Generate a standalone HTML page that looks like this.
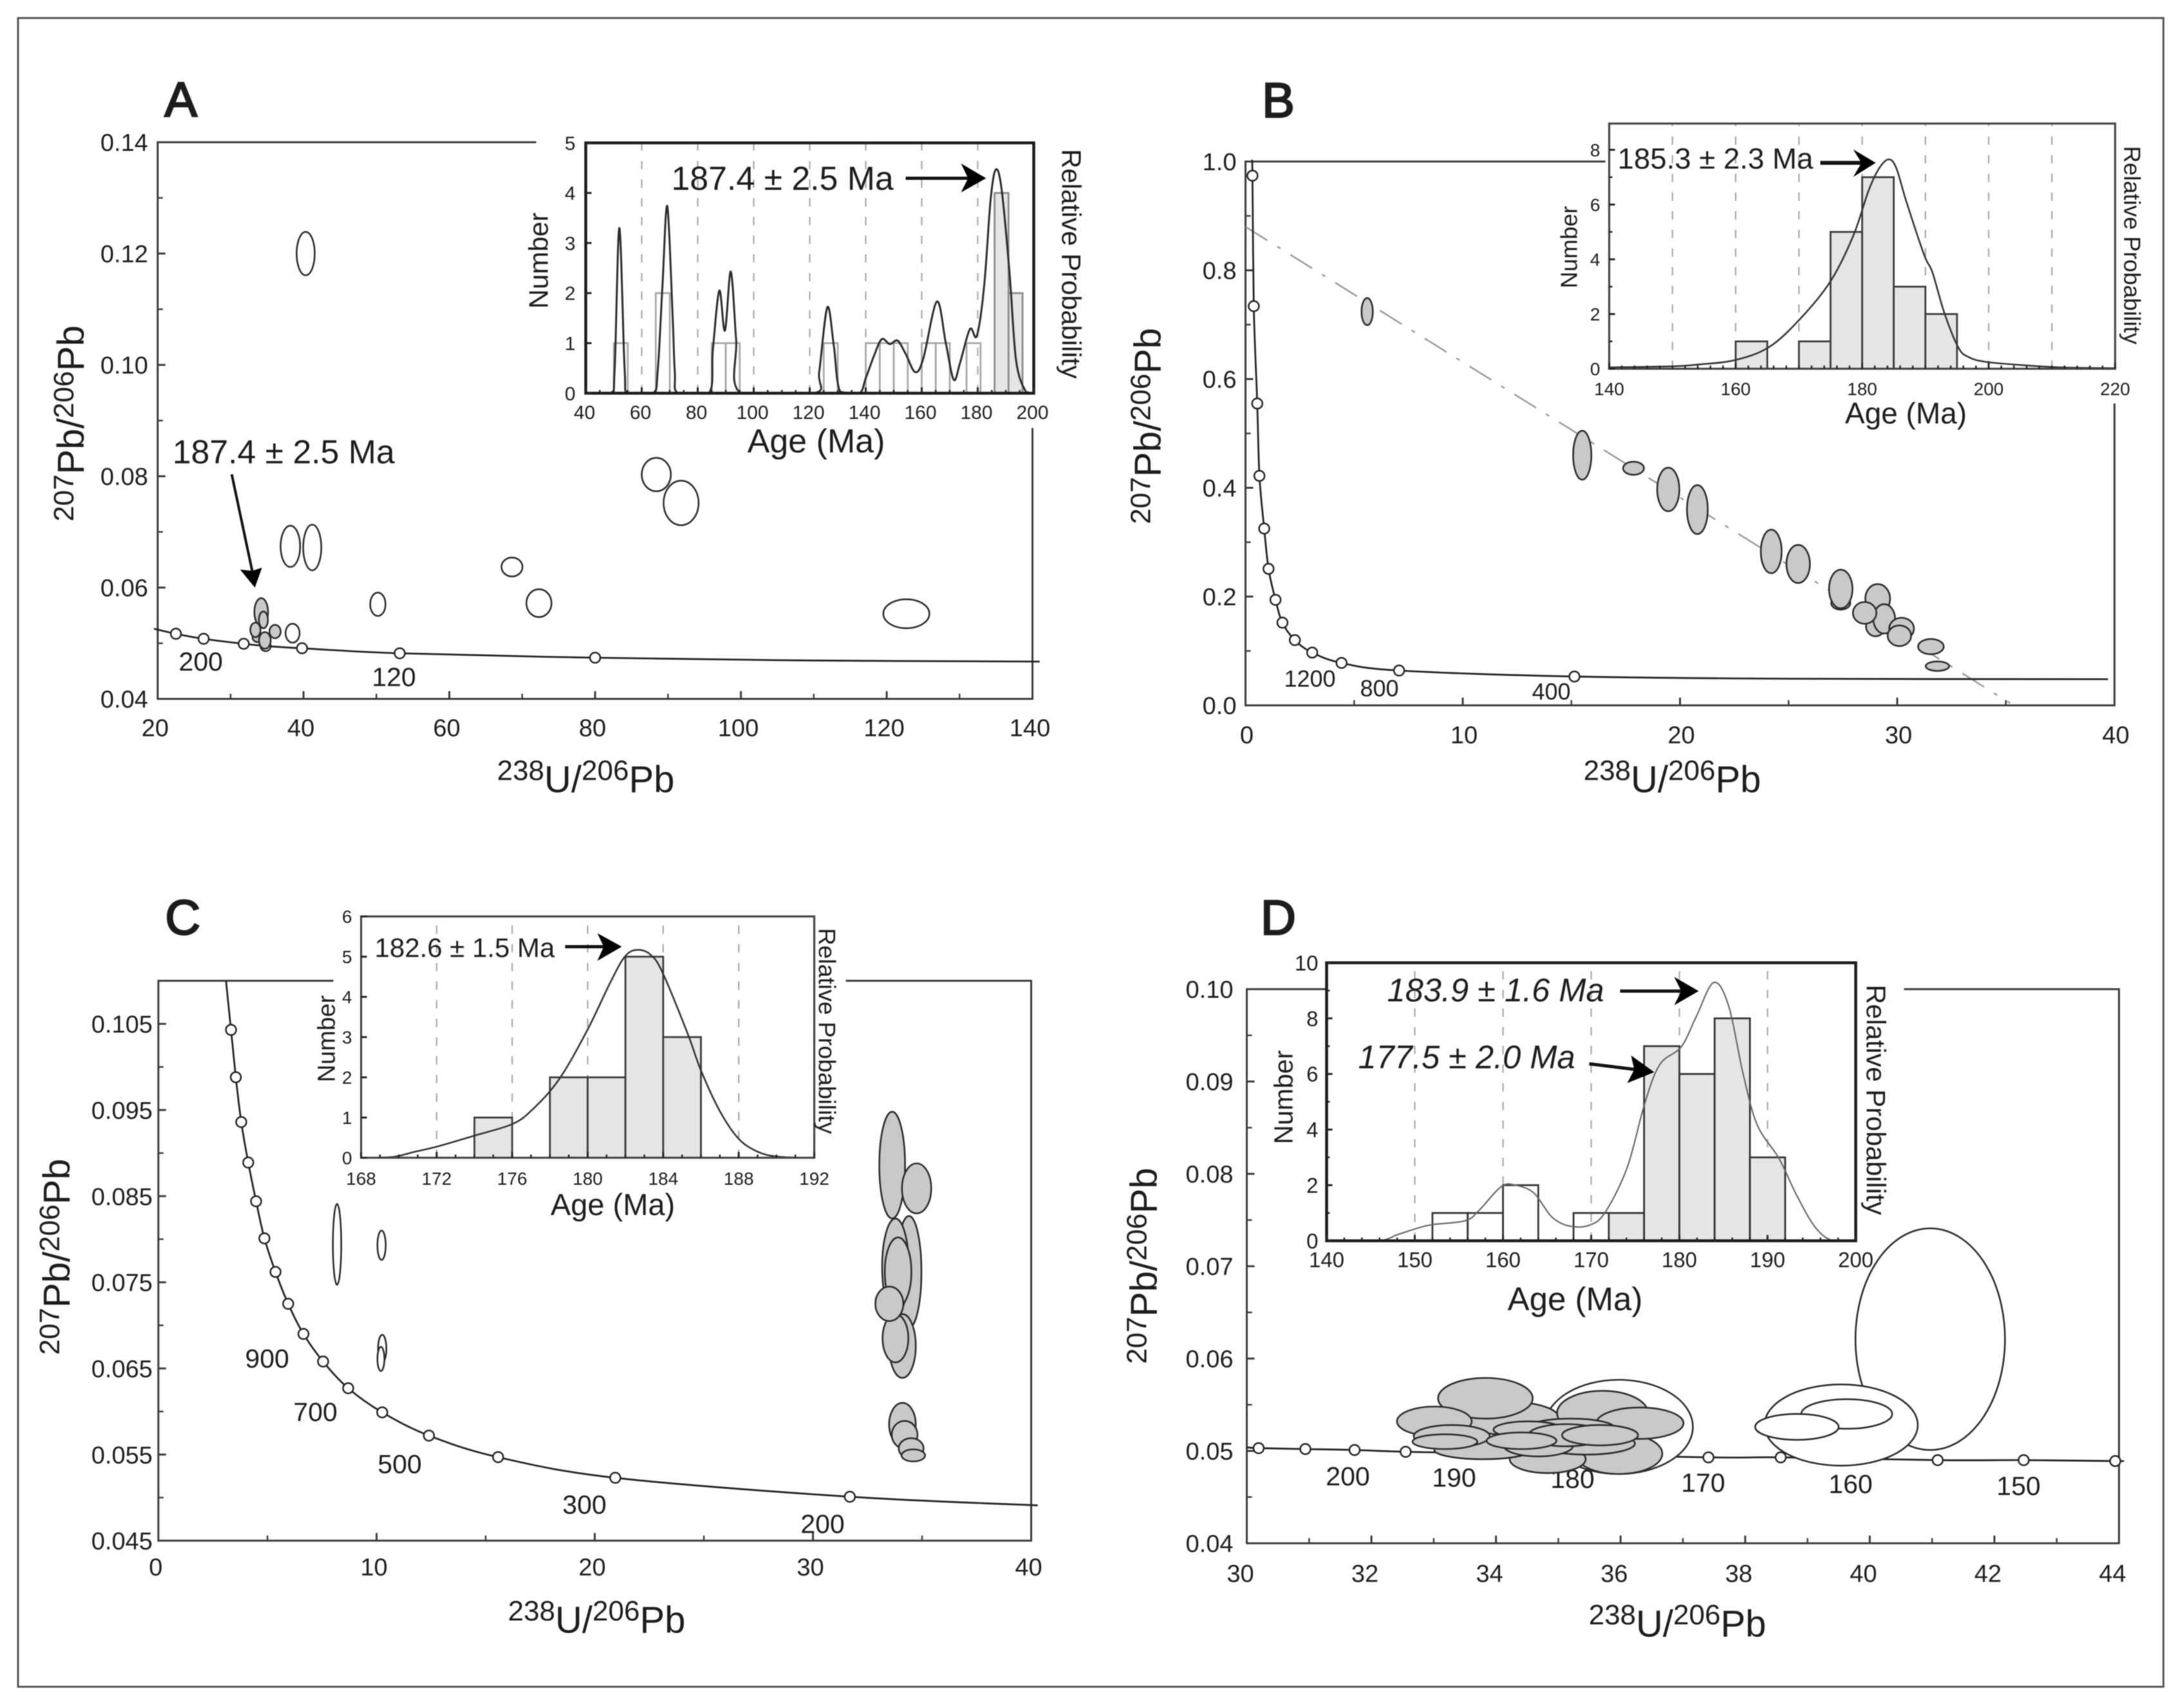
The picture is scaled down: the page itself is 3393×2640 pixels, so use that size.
<!DOCTYPE html>
<html>
<head>
<meta charset="utf-8">
<title>Concordia diagrams A-D</title>
<style>
html,body{margin:0;padding:0;background:#fff;}
svg{display:block;filter:blur(0.7px);}
text{font-family:"Liberation Sans",Arial,sans-serif;fill:#1c1c1c;}
</style>
</head>
<body>
<svg id="figure" xmlns="http://www.w3.org/2000/svg" width="3393" height="2640" viewBox="0 0 3393 2640">
<rect x="0" y="0" width="3393" height="2640" fill="#fff"/>
<rect x="28" y="28" width="3333" height="2593" fill="none" stroke="#555" stroke-width="3"/>

<g font-size="41" text-anchor="middle">
<text x="312" y="1042">200</text>
<text x="612" y="1066">120</text>
<text x="2035" y="1067" font-size="36">1200</text>
<text x="2143" y="1082" font-size="36">800</text>
<text x="2410" y="1087" font-size="36">400</text>
<text x="415" y="2125">900</text>
<text x="490" y="2208">700</text>
<text x="621" y="2289">500</text>
<text x="908" y="2352">300</text>
<text x="1278" y="2382">200</text>
<text x="2094" y="2308">200</text>
<text x="2259" y="2310">190</text>
<text x="2443" y="2312">180</text>
<text x="2646" y="2318">170</text>
<text x="2875" y="2320">160</text>
<text x="3136" y="2323">150</text>
</g>

<g id="marks"></g>

<g font-size="76" text-anchor="middle" stroke="#1c1c1c" stroke-width="2.5">
<text x="281" y="181">A</text>
<text x="1986" y="182">B</text>
<text x="284" y="1452">C</text>
<text x="1986" y="1452">D</text>
</g>

<g font-size="58" text-anchor="middle">
<text transform="translate(130 658) rotate(-90)"><tspan font-size="44" dy="-16">207</tspan><tspan dy="16">Pb/</tspan><tspan font-size="44" dy="-16">206</tspan><tspan dy="16">Pb</tspan></text>
<text x="910" y="1231"><tspan font-size="44" dy="-19">238</tspan><tspan dy="19">U/</tspan><tspan font-size="44" dy="-19">206</tspan><tspan dy="19">Pb</tspan></text>
<text transform="translate(1803 662) rotate(-90)"><tspan font-size="44" dy="-16">207</tspan><tspan dy="16">Pb/</tspan><tspan font-size="44" dy="-16">206</tspan><tspan dy="16">Pb</tspan></text>
<text x="2598" y="1231"><tspan font-size="44" dy="-19">238</tspan><tspan dy="19">U/</tspan><tspan font-size="44" dy="-19">206</tspan><tspan dy="19">Pb</tspan></text>
<text transform="translate(108 1953) rotate(-90)"><tspan font-size="44" dy="-16">207</tspan><tspan dy="16">Pb/</tspan><tspan font-size="44" dy="-16">206</tspan><tspan dy="16">Pb</tspan></text>
<text x="927" y="2537"><tspan font-size="44" dy="-19">238</tspan><tspan dy="19">U/</tspan><tspan font-size="44" dy="-19">206</tspan><tspan dy="19">Pb</tspan></text>
<text transform="translate(1797 1967) rotate(-90)"><tspan font-size="44" dy="-16">207</tspan><tspan dy="16">Pb/</tspan><tspan font-size="44" dy="-16">206</tspan><tspan dy="16">Pb</tspan></text>
<text x="2606" y="2543"><tspan font-size="44" dy="-19">238</tspan><tspan dy="19">U/</tspan><tspan font-size="44" dy="-19">206</tspan><tspan dy="19">Pb</tspan></text>
</g>

<g text-anchor="middle">
<text x="1268" y="703" font-size="52">Age (Ma)</text>
<text font-size="42" transform="translate(851 405) rotate(-90)">Number</text>
<text font-size="41.7" transform="translate(1650 410) rotate(90)">Relative Probability</text>
<text x="2961" y="658" font-size="46">Age (Ma)</text>
<text font-size="36" transform="translate(2450 384) rotate(-90)">Number</text>
<text font-size="36" transform="translate(3300 381) rotate(90)">Relative Probability</text>
<text x="952" y="1888" font-size="47">Age (Ma)</text>
<text font-size="38" transform="translate(520 1614) rotate(-90)">Number</text>
<text font-size="37.4" transform="translate(1272 1602) rotate(90)">Relative Probability</text>
<text x="2447" y="2036" font-size="51">Age (Ma)</text>
<text font-size="41" transform="translate(2008 1705) rotate(-90)">Number</text>
<text font-size="41.8" transform="translate(2900 1709) rotate(90)">Relative Probability</text>
</g>

<g>
<text x="1043" y="295" font-size="51.8">187.4 ± 2.5 Ma</text>
<line x1="1407" y1="277" x2="1505" y2="277" stroke="#111" stroke-width="5"/>
<polygon points="1532,277 1493,254 1504,277 1493,299" fill="#000"/>
<text x="268" y="720" font-size="51.8">187.4 ± 2.5 Ma</text>
<line x1="360" y1="737" x2="392" y2="888" stroke="#111" stroke-width="4"/>
<polygon points="396,913 373,885 392,887 407,882" fill="#000"/>
<text x="2513" y="262" font-size="45.6">185.3 ± 2.3 Ma</text>
<line x1="2828" y1="253" x2="2894" y2="253" stroke="#111" stroke-width="6"/>
<polygon points="2914,253 2879,232 2892,253 2879,275" fill="#000"/>
<text x="582" y="1487" font-size="42">182.6 ± 1.5 Ma</text>
<line x1="878" y1="1471" x2="940" y2="1471" stroke="#111" stroke-width="5"/>
<polygon points="966,1471 928,1450 938,1471 928,1493" fill="#000"/>
<text x="2155" y="1556" font-size="50.6" font-style="italic">183.9 ± 1.6 Ma</text>
<line x1="2517" y1="1540" x2="2614" y2="1540" stroke="#111" stroke-width="5"/>
<polygon points="2639,1540 2601,1518 2612,1540 2601,1562" fill="#000"/>
<text x="2110" y="1660" font-size="50.6" font-style="italic">177.5 ± 2.0 Ma</text>
<line x1="2469" y1="1653" x2="2542" y2="1662" stroke="#111" stroke-width="5"/>
<polygon points="2570,1666 2534,1640 2539,1662 2528,1683" fill="#000"/>
</g>
</svg>

<script>
// ---------- Panel A data ----------
const aXTickLabels = ['20','40','60','80','100','120','140'];
const aYTickLabels = ['0.04','0.06','0.08','0.10','0.12','0.14'];
const aCurveX = [19.5,22.5,26.3,31.8,34.8,39.8,53.2,80,110,141];
const aCurveY = [0.0526,0.0517,0.0508,0.0499,0.0495,0.0491,0.0482,0.0474,0.0469,0.0467];
const aMarkerX = [22.5,26.3,31.8,34.8,39.8,53.2,80];
const aMarkerY = [0.0517,0.0508,0.0499,0.0495,0.0491,0.0482,0.0474];
const aOpenX = [40.3,38.2,41.2,88.4,91.8,68.6,72.3,50.2,122.7,38.5];
const aOpenY = [0.12,0.0674,0.0672,0.0803,0.0752,0.0637,0.0572,0.057,0.0553,0.0518];
const aOpenEX = [1.24,1.34,1.24,2.0,2.4,1.44,1.72,1.05,3.16,0.96];
const aOpenEY = [0.0039,0.0037,0.0041,0.003,0.004,0.0017,0.0025,0.0021,0.0026,0.0017];
const aGrayX = [33.7,34.2,34.5,33.4,36.1,34.7];
const aGrayY = [0.0511,0.0556,0.0542,0.0524,0.0521,0.0505];
const aGrayEX = [0.7,0.94,0.62,0.7,0.77,0.8];
const aGrayEY = [0.0009,0.0025,0.0015,0.0013,0.0012,0.0015];
const aInsetXTickLabels = ['40','60','80','100','120','140','160','180','200'];
const aInsetYTickLabels = ['0','1','2','3','4','5'];
const aBinStarts = [50,65,85,90,125,140,145,150,160,165,176,186,191];
const aBinCounts = [1,2,1,1,1,1,1,1,1,1,1,4,2];
const aPdfAges = [40,48.9,50.3,52,53.9,55.1,64,65.7,67.4,69.1,70.9,71.8,73,84,85.4,87.7,89.7,91.8,93.7,95.4,121.7,123.4,126.3,128.6,130.9,137.7,140,142.9,145.7,148.6,151.4,154.3,157.7,160.6,165.4,168.6,171.4,173.7,177.2,179.7,182.3,184.6,186.5,188.6,191.4,193.7,197.2,200];
const aPdfValues = [0,0,0.44,3.3,0.44,0,0,0.44,2.15,3.74,1.72,0.44,0,0,0.87,2.05,1.25,2.43,1.08,0,0,0.44,1.72,0.95,0.03,0,0.3,0.74,1.08,0.98,1.05,0.78,0.42,0.7,1.83,1.0,0.27,0.61,1.28,1.15,2.15,3.87,4.47,4.04,2.37,0.65,0.03,0];

// ---------- Panel B data ----------
const bXTickLabels = ['0','10','20','30','40'];
const bYTickLabels = ['0.0','0.2','0.4','0.6','0.8','1.0'];
const bCurveX = [0.3,0.32,0.38,0.54,0.64,0.86,1.06,1.38,1.7,2.27,3.07,4.42,7.07,15.14,25,39.7];
const bCurveY = [1,0.974,0.734,0.555,0.422,0.325,0.251,0.194,0.152,0.12,0.097,0.078,0.064,0.053,0.049,0.048];
const bMarkerX = [0.32,0.38,0.54,0.64,0.86,1.06,1.38,1.7,2.27,3.07,4.42,7.07,15.14];
const bMarkerY = [0.974,0.734,0.555,0.422,0.325,0.251,0.194,0.152,0.12,0.097,0.078,0.064,0.053];
const bRegressionX = [0,35.2];
const bRegressionY = [0.88,0.004];
const bGrayX = [5.6,15.5,17.86,19.46,20.8,24.2,25.44,27.4,27.4,29.1,29,29.4,28.5,30.2,30.1,31.55,31.85];
const bGrayY = [0.724,0.46,0.436,0.397,0.36,0.283,0.26,0.188,0.214,0.196,0.146,0.159,0.17,0.141,0.128,0.108,0.072];
const bGrayEX = [0.26,0.42,0.48,0.51,0.48,0.48,0.54,0.44,0.54,0.57,0.44,0.5,0.54,0.57,0.54,0.59,0.54];
const bGrayEY = [0.025,0.045,0.012,0.04,0.045,0.04,0.035,0.012,0.0355,0.027,0.019,0.027,0.02,0.02,0.019,0.014,0.0087];
const bInsetXTickLabels = ['140','160','180','200','220'];
const bInsetYTickLabels = ['0','2','4','6','8'];
const bGridAges = [150,160,170,180,190,200,210];
const bBinStarts = [160,170,175,180,185,190];
const bBinCounts = [1,1,5,7,3,2];
const bPdfAges = [140,150,154.3,159.8,165.2,170.1,175,178.6,181,182.7,184.2,185.4,187,189.8,191.1,193,195.2,196.8,199.6,206.1,211.6,220];
const bPdfValues = [0.05,0.09,0.16,0.31,0.78,1.8,3.2,4.86,6.5,7.33,7.65,7.33,6.1,4.16,3.53,2.04,0.78,0.43,0.25,0.12,0.05,0.02];

// ---------- Panel C data ----------
const cXTickLabels = ['0','10','20','30','40'];
const cYTickLabels = ['0.045','0.055','0.065','0.075','0.085','0.095','0.105'];
const cCurveX = [3.1,3.33,3.55,3.8,4.12,4.48,4.86,5.37,5.95,6.65,7.55,8.7,10.26,12.4,15.57,20.94,31.69,40.3];
const cCurveY = [0.11,0.1043,0.0988,0.0936,0.0889,0.0844,0.0801,0.0762,0.0725,0.069,0.0658,0.0627,0.0599,0.0572,0.0547,0.0523,0.0501,0.0491];
const cMarkerX = [3.33,3.55,3.8,4.12,4.48,4.86,5.37,5.95,6.65,7.55,8.7,10.26,12.4,15.57,20.94,31.69];
const cMarkerY = [0.1043,0.0988,0.0936,0.0889,0.0844,0.0801,0.0762,0.0725,0.069,0.0658,0.0627,0.0599,0.0572,0.0547,0.0523,0.0501];
const cOpenX = [8.19,10.23,10.26,10.2];
const cOpenY = [0.0794,0.0793,0.0673,0.0661];
const cOpenEX = [0.19,0.19,0.19,0.16];
const cOpenEY = [0.0047,0.0017,0.0016,0.0014];
const cGrayX = [33.63,34.75,34.4,33.78,33.9,34.1,33.78,33.5,34.1,34.2,34.5,34.6];
const cGrayY = [0.0886,0.0859,0.0762,0.0768,0.0762,0.0676,0.0685,0.0725,0.0585,0.0573,0.0557,0.0549];
const cGrayEX = [0.59,0.67,0.57,0.61,0.61,0.61,0.59,0.64,0.61,0.59,0.57,0.54];
const cGrayEY = [0.0062,0.0029,0.0065,0.0056,0.004,0.0037,0.0028,0.002,0.0025,0.0016,0.0012,0.0007];
const cInsetXTickLabels = ['168','172','176','180','184','188','192'];
const cInsetYTickLabels = ['0','1','2','3','4','5','6'];
const cBinStarts = [174,178,180,182,184];
const cBinCounts = [1,2,2,5,3];
const cPdfAges = [168,169.66,170.85,172.04,174,176.02,177.1,178.5,180,181.2,182,182.7,183.4,184,185.3,186,187,188,189,190,191.4];
const cPdfValues = [0,0.02,0.15,0.28,0.55,0.84,1.21,1.96,3.19,4.36,5.02,5.17,5.02,4.57,3.08,2.17,1.16,0.47,0.15,0.03,0];

// ---------- Panel D data ----------
const dXTickLabels = ['30','32','34','36','38','40','42','44'];
const dYTickLabels = ['0.04','0.05','0.06','0.07','0.08','0.09','0.10'];
const dCurveX = [30,30.19,30.94,31.73,32.55,33.42,37.41,38.57,41.09,42.47,43.94,44];
const dCurveY = [0.0504,0.0503,0.0502,0.0501,0.0499,0.0498,0.0493,0.0493,0.049,0.049,0.0489,0.0489];
const dMarkerX = [30.19,30.94,31.73,32.55,33.42,37.41,38.57,41.09,42.47,43.94];
const dMarkerY = [0.0503,0.0502,0.0501,0.0499,0.0498,0.0493,0.0493,0.049,0.049,0.0489];
const dOpenX = [40.97,39.54,39.63,38.83,35.97];
const dOpenY = [0.0621,0.0528,0.054,0.0526,0.0526];
const dOpenEX = [1.2,1.23,0.73,0.67,1.19];
const dOpenEY = [0.012,0.0044,0.0016,0.0014,0.0051];
const dGrayX = [34.24,33.83,33.01,35.71,35.97,36.31,34.83,33.79,35.2,35.45,34.68,34.52,35.13,35.67,33.29,33.18,34.41];
const dGrayY = [0.0535,0.0557,0.0532,0.0541,0.0497,0.053,0.0491,0.0501,0.0525,0.0508,0.0506,0.0523,0.0517,0.0517,0.0516,0.051,0.0511];
const dGrayEX = [0.78,0.76,0.6,0.73,0.7,0.7,0.61,0.78,0.7,0.78,0.56,0.56,0.61,0.61,0.61,0.52,0.56];
const dGrayEY = [0.0018,0.0022,0.0016,0.0024,0.0022,0.0017,0.0015,0.001,0.001,0.0012,0.0012,0.0009,0.0012,0.0011,0.0012,0.0008,0.0009];
const dInsetXTickLabels = ['140','150','160','170','180','190','200'];
const dInsetYTickLabels = ['0','2','4','6','8','10'];
const dGridAges = [150,160,170,180,190];
const dBinStarts = [152,156,160,168,172,176,180,184,188];
const dBinCounts = [1,1,2,1,1,7,6,8,3];
const dPdfAges = [140,145.85,148.3,151.6,155.7,157.3,159.8,161.4,163.5,165.5,167.5,169.8,171.6,174.1,176.1,177.8,180.2,181.9,183.9,185.6,187.2,188.8,191.3,193.3,195.4,197.4,200];
const dPdfValues = [0,0,0.25,0.56,0.72,1.1,1.95,2.0,1.72,0.87,0.53,0.56,1.03,2.65,4.97,6.35,6.97,8.05,9.29,8.44,6.05,4.19,2.96,1.64,0.49,0,0];

const SVG_NS = 'http://www.w3.org/2000/svg';
const root = document.getElementById('marks');

function make(tag, attrs, parent) {
  const el = document.createElementNS(SVG_NS, tag);
  for (const k in attrs) el.setAttribute(k, attrs[k]);
  parent.appendChild(el);
  return el;
}
function linear(d0, d1, r0, r1) {
  return function (v) { return r0 + (v - d0) / (d1 - d0) * (r1 - r0); };
}
function splinePath(xVals, yVals, xs, ys, floorPx) {
  const p = xVals.map(function (x, i) { return [xs(x), ys(yVals[i])]; });
  let d = 'M' + p[0][0].toFixed(1) + ' ' + p[0][1].toFixed(1);
  const clampY = function (y) { return floorPx === undefined ? y : Math.min(y, floorPx); };
  for (let i = 0; i < p.length - 1; i++) {
    const a = p[Math.max(i - 1, 0)], b = p[i], c = p[i + 1], e = p[Math.min(i + 2, p.length - 1)];
    const c1x = b[0] + (c[0] - a[0]) / 6, c1y = clampY(b[1] + (c[1] - a[1]) / 6);
    const c2x = c[0] - (e[0] - b[0]) / 6, c2y = clampY(c[1] - (e[1] - b[1]) / 6);
    d += 'C' + c1x.toFixed(1) + ' ' + c1y.toFixed(1) + ' ' + c2x.toFixed(1) + ' ' + c2y.toFixed(1) + ' ' + c[0].toFixed(1) + ' ' + c[1].toFixed(1);
  }
  return d;
}

function drawTicks(group, cfg, xs, ys, xLabels, yLabels) {
  const xNums = xLabels.map(parseFloat), yNums = yLabels.map(parseFloat);
  xNums.forEach(function (v, i) {
    const tick = make('line', {x1: xs(v), x2: xs(v), y1: cfg.y0, y2: cfg.y0 - cfg.major, stroke: cfg.tickColor, 'stroke-width': 3}, group);
    
    
    const label = make('text', {x: xs(v) + cfg.xLabelShift, y: cfg.y0 + cfg.xLabelDrop, 'font-size': cfg.labelSize, 'text-anchor': 'middle'}, group);
    label.textContent = xLabels[i];
    
    
    if (i < xNums.length - 1) {
      for (let k = 1; k < cfg.xDiv; k++) {
        const mv = v + (xNums[i + 1] - v) * k / cfg.xDiv;
        const minor = make('line', {x1: xs(mv), x2: xs(mv), y1: cfg.y0, y2: cfg.y0 - cfg.minor, stroke: cfg.tickColor, 'stroke-width': 2.5}, group);
        
        
      }
    }
  });
  yNums.forEach(function (v, i) {
    const tick = make('line', {x1: cfg.x0, x2: cfg.x0 + cfg.major, y1: ys(v), y2: ys(v), stroke: cfg.tickColor, 'stroke-width': 3}, group);
    
    
    const label = make('text', {x: cfg.x0 - cfg.yLabelGap, y: ys(v) + cfg.labelSize * 0.36, 'font-size': cfg.labelSize, 'text-anchor': 'end'}, group);
    label.textContent = yLabels[i];
    
    
    if (i < yNums.length - 1) {
      for (let k = 1; k < cfg.yDiv; k++) {
        const mv = v + (yNums[i + 1] - v) * k / cfg.yDiv;
        const minor = make('line', {x1: cfg.x0, x2: cfg.x0 + cfg.minor, y1: ys(mv), y2: ys(mv), stroke: cfg.tickColor, 'stroke-width': 2.5}, group);
        
        
      }
    }
  });
}

function drawEllipses(group, X, Y, EX, EY, xs, ys, fill, width) {
  X.forEach(function (x, i) {
    const e = make('ellipse', {
      cx: xs(x), cy: ys(Y[i]),
      rx: Math.abs(xs(x + EX[i]) - xs(x)), ry: Math.abs(ys(Y[i] + EY[i]) - ys(Y[i])),
      fill: fill, stroke: '#2a2a2a', 'stroke-width': width
    }, group);
    
    
  });
}

function drawMarkers(group, X, Y, xs, ys) {
  X.forEach(function (x, i) {
    const c = make('circle', {cx: xs(x), cy: ys(Y[i]), r: 8, fill: '#fff', stroke: '#222', 'stroke-width': 2.5}, group);
    
    
  });
}

function drawMainPanel(cfg, d) {
  const group = make('g', {}, root);
  
  
  const xs = linear(cfg.dx0, cfg.dx1, cfg.x0, cfg.x1);
  const ys = linear(cfg.dy0, cfg.dy1, cfg.y0, cfg.y1);
  const frame = make('path', {
    d: 'M' + cfg.x0 + ' ' + cfg.y1 + 'L' + cfg.x1 + ' ' + cfg.y1 + 'L' + cfg.x1 + ' ' + cfg.y0 + 'L' + cfg.x0 + ' ' + cfg.y0 + 'Z',
    fill: 'none', stroke: '#3a3a3a', 'stroke-width': 3
  }, group);
  
  
  drawTicks(group, cfg, xs, ys, d.xLabels, d.yLabels);
  if (d.regX) {
    const reg = make('line', {x1: xs(d.regX[0]), y1: ys(d.regY[0]), x2: xs(d.regX[1]), y2: ys(d.regY[1]), stroke: '#999', 'stroke-width': 2.5, 'stroke-dasharray': '40 18 6 18'}, group);
    
    
  }
  const curve = make('path', {d: splinePath(d.curveX, d.curveY, xs, ys), fill: 'none', stroke: '#222', 'stroke-width': 2.8}, group);
  
  
  drawMarkers(group, d.markerX, d.markerY, xs, ys);
  if (d.openX) drawEllipses(group, d.openX, d.openY, d.openEX, d.openEY, xs, ys, '#fff', 2.6);
  drawEllipses(group, d.grayX, d.grayY, d.grayEX, d.grayEY, xs, ys, '#c9c9c9', 2.6);
}

function drawInset(cfg, d) {
  const group = make('g', {}, root);
  
  
  const mask = make('rect', {x: cfg.maskX, y: cfg.maskY, width: cfg.maskW, height: cfg.maskH, fill: '#fff'}, group);
  
  
  const plotBg = make('rect', {x: cfg.x0, y: cfg.y1, width: cfg.x1 - cfg.x0, height: cfg.y0 - cfg.y1, fill: '#fff'}, group);
  
  
  const xs = linear(cfg.dx0, cfg.dx1, cfg.x0, cfg.x1);
  const ys = linear(cfg.dy0, cfg.dy1, cfg.y0, cfg.y1);
  d.grid.forEach(function (age) {
    const g = make('line', {x1: xs(age), x2: xs(age), y1: cfg.y0, y2: cfg.y1, stroke: '#aaa', 'stroke-width': 2.3, 'stroke-dasharray': '13 16'}, group);
    
    
  });
  d.binStarts.forEach(function (start, i) {
    const filled = start >= cfg.fillFrom;
    const bar = make('rect', {
      x: xs(start), y: ys(d.binCounts[i]),
      width: xs(start + cfg.binWidth) - xs(start), height: cfg.y0 - ys(d.binCounts[i]),
      fill: filled ? '#e6e6e6' : 'none',
      stroke: (filled || !cfg.lightOpen) ? cfg.barStroke : '#a8a8a8', 'stroke-width': 2.8
    }, group);
    
    
  });
  const curve = make('path', {d: splinePath(d.pdfAges, d.pdfValues, xs, ys, cfg.y0), fill: 'none', stroke: cfg.curveColor, 'stroke-width': cfg.curveWidth}, group);
  
  
  const frame = make('rect', {x: cfg.x0, y: cfg.y1, width: cfg.x1 - cfg.x0, height: cfg.y0 - cfg.y1, fill: 'none', stroke: cfg.frameColor, 'stroke-width': cfg.frameWidth}, group);
  
  
  drawTicks(group, cfg, xs, ys, d.xLabels, d.yLabels);
}

function parseGrid(labels) {
  return labels.map(parseFloat).slice(1, -1);
}

drawMainPanel(
  {id: 'a', x0: 245, x1: 1604, y0: 1086, y1: 221, dx0: 20, dx1: 140, dy0: 0.04, dy1: 0.14, major: 12, minor: 8, tickColor: '#3a3a3a', labelSize: 38, xLabelShift: -4, xLabelDrop: 58, yLabelGap: 15, xDiv: 2, yDiv: 2},
  {xLabels: aXTickLabels, yLabels: aYTickLabels, curveX: aCurveX, curveY: aCurveY, markerX: aMarkerX, markerY: aMarkerY, openX: aOpenX, openY: aOpenY, openEX: aOpenEX, openEY: aOpenEY, grayX: aGrayX, grayY: aGrayY, grayEX: aGrayEX, grayEY: aGrayEY}
);
drawMainPanel(
  {id: 'b', x0: 1935, x1: 3285, y0: 1096, y1: 251, dx0: 0, dx1: 40, dy0: 0, dy1: 1, major: 12, minor: 8, tickColor: '#3a3a3a', labelSize: 38, xLabelShift: 2, xLabelDrop: 59, yLabelGap: 14, xDiv: 2, yDiv: 2},
  {xLabels: bXTickLabels, yLabels: bYTickLabels, curveX: bCurveX, curveY: bCurveY, markerX: bMarkerX, markerY: bMarkerY, regX: bRegressionX, regY: bRegressionY, grayX: bGrayX, grayY: bGrayY, grayEX: bGrayEX, grayEY: bGrayEY}
);
drawMainPanel(
  {id: 'c', x0: 246, x1: 1602, y0: 2394, y1: 1524, dx0: 0, dx1: 40, dy0: 0.045, dy1: 0.11, major: 12, minor: 8, tickColor: '#3a3a3a', labelSize: 38, xLabelShift: -4, xLabelDrop: 54, yLabelGap: 9, xDiv: 2, yDiv: 2},
  {xLabels: cXTickLabels, yLabels: cYTickLabels, curveX: cCurveX, curveY: cCurveY, markerX: cMarkerX, markerY: cMarkerY, openX: cOpenX, openY: cOpenY, openEX: cOpenEX, openEY: cOpenEY, grayX: cGrayX, grayY: cGrayY, grayEX: cGrayEX, grayEY: cGrayEY}
);
drawMainPanel(
  {id: 'd', x0: 1937, x1: 3292, y0: 2398, y1: 1537, dx0: 30, dx1: 44, dy0: 0.04, dy1: 0.1, major: 12, minor: 8, tickColor: '#3a3a3a', labelSize: 38, xLabelShift: -10, xLabelDrop: 60, yLabelGap: 21, xDiv: 2, yDiv: 2},
  {xLabels: dXTickLabels, yLabels: dYTickLabels, curveX: dCurveX, curveY: dCurveY, markerX: dMarkerX, markerY: dMarkerY, openX: dOpenX, openY: dOpenY, openEX: dOpenEX, openEY: dOpenEY, grayX: dGrayX, grayY: dGrayY, grayEX: dGrayEX, grayEY: dGrayEY}
);

drawInset(
  {id: 'a', maskX: 833, maskY: 200, maskW: 800, maskH: 465, x0: 910, x1: 1606, y0: 611, y1: 222, dx0: 40, dx1: 200, dy0: 0, dy1: 5, binWidth: 5, fillFrom: 186, lightOpen: true, barStroke: '#8a8a8a', curveColor: '#2a2a2a', curveWidth: 3, frameColor: '#1a1a1a', frameWidth: 4.5, major: 9, minor: 5, tickColor: '#222', labelSize: 30, xLabelShift: -2, xLabelDrop: 40, yLabelGap: 16, xDiv: 4, yDiv: 1},
  {grid: parseGrid(aInsetXTickLabels), binStarts: aBinStarts, binCounts: aBinCounts, pdfAges: aPdfAges, pdfValues: aPdfValues, xLabels: aInsetXTickLabels, yLabels: aInsetYTickLabels}
);
drawInset(
  {id: 'b', maskX: 2494, maskY: 180, maskW: 846, maskH: 447, x0: 2500, x1: 3286, y0: 573, y1: 192, dx0: 140, dx1: 220, dy0: 0, dy1: 8.96, binWidth: 5, fillFrom: 0, lightOpen: false, barStroke: '#3a3a3a', curveColor: '#333', curveWidth: 2.6, frameColor: '#444', frameWidth: 3.2, major: 9, minor: 5, tickColor: '#222', labelSize: 28, xLabelShift: 0, xLabelDrop: 41, yLabelGap: 14, xDiv: 10, yDiv: 2},
  {grid: bGridAges, binStarts: bBinStarts, binCounts: bBinCounts, pdfAges: bPdfAges, pdfValues: bPdfValues, xLabels: bInsetXTickLabels, yLabels: bInsetYTickLabels}
);
drawInset(
  {id: 'c', maskX: 518, maskY: 1400, maskW: 796, maskH: 140, x0: 561, x1: 1265, y0: 1799, y1: 1424, dx0: 168, dx1: 192, dy0: 0, dy1: 6, binWidth: 2, fillFrom: 0, lightOpen: false, barStroke: '#3a3a3a', curveColor: '#333', curveWidth: 2.6, frameColor: '#444', frameWidth: 3.2, major: 9, minor: 5, tickColor: '#222', labelSize: 28, xLabelShift: 0, xLabelDrop: 42, yLabelGap: 14, xDiv: 4, yDiv: 1},
  {grid: parseGrid(cInsetXTickLabels), binStarts: cBinStarts, binCounts: cBinCounts, pdfAges: cPdfAges, pdfValues: cPdfValues, xLabels: cInsetXTickLabels, yLabels: cInsetYTickLabels}
);
drawInset(
  {id: 'd', maskX: 2062, maskY: 1480, maskW: 896, maskH: 70, x0: 2061, x1: 2883, y0: 1928, y1: 1496, dx0: 140, dx1: 200, dy0: 0, dy1: 10, binWidth: 4, fillFrom: 172, lightOpen: false, barStroke: '#333', curveColor: '#666', curveWidth: 2.2, frameColor: '#1a1a1a', frameWidth: 4.5, major: 9, minor: 5, tickColor: '#222', labelSize: 33, xLabelShift: 0, xLabelDrop: 41, yLabelGap: 13, xDiv: 5, yDiv: 2},
  {grid: dGridAges, binStarts: dBinStarts, binCounts: dBinCounts, pdfAges: dPdfAges, pdfValues: dPdfValues, xLabels: dInsetXTickLabels, yLabels: dInsetYTickLabels}
);
</script>
</body>
</html>
